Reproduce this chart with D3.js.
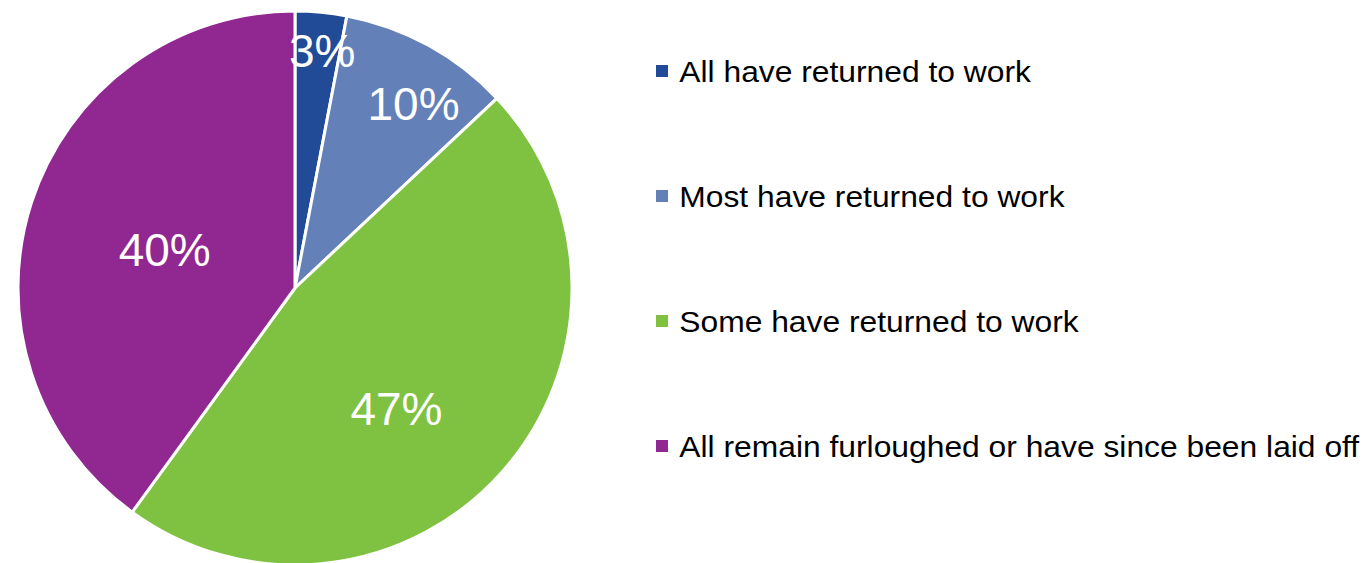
<!DOCTYPE html>
<meta charset="utf-8">
<style>
body { margin: 0; background: #fff; }
.legend text { font: normal 30px "Liberation Sans", Arial, sans-serif; fill: #000; }
.slice-label { font: normal 46px "Liberation Sans", Arial, sans-serif; fill: #fff; }
</style>
<body>
<script src="https://cdn.jsdelivr.net/npm/d3@7"></script>
<script>

// data
var categories = ["All have returned to work", "Most have returned to work",
                  "Some have returned to work", "All remain furloughed or have since been laid off"];
var shares = [3, 10, 47, 40];
var colours = ["#214b97", "#6380b9", "#7fc241", "#912790"];

var width = 1370, height = 563;
var cx = 295, cy = 288, radius = 277;

var svg = d3.select("body").append("svg")
    .attr("width", width)
    .attr("height", height);

var pie = d3.pie().sort(null).value(function(d) { return d; });
var arcs = pie(shares);

var arc = d3.arc().innerRadius(0).outerRadius(radius);

var g = svg.append("g").attr("transform", "translate(" + cx + "," + cy + ")");

g.selectAll("path.slice")
    .data(arcs)
    .enter().append("path")
    .attr("class", "slice")
    .attr("d", arc)
    .style("fill", function(d, i) { return colours[i]; })
    .style("stroke", "#fff")
    .style("stroke-width", 3)
    .style("stroke-linejoin", "round");

// label distance from centre, as a share of the radius (Excel best-fit look)
var labelR = [0.86, 0.79, 0.57, 0.49];
var labelTurn = [0.02, 0.07, 0.15, -0.03]; // small angle nudges in radians

g.selectAll("text.slice-label")
    .data(arcs)
    .enter().append("text")
    .attr("class", "slice-label")
    .attr("text-anchor", "middle")
    .attr("x", function(d, i) {
        var a = (d.startAngle + d.endAngle) / 2 + labelTurn[i];
        return Math.sin(a) * radius * labelR[i];
    })
    .attr("y", function(d, i) {
        var a = (d.startAngle + d.endAngle) / 2 + labelTurn[i];
        return -Math.cos(a) * radius * labelR[i];
    })
    .attr("dy", "0.35em")
    .text(function(d) { return d.data + "%"; });

// legend
var legendY = d3.scalePoint().domain(categories).range([71, 446]);

var legend = svg.append("g").attr("class", "legend")
    .selectAll("g")
    .data(categories)
    .enter().append("g")
    .attr("transform", function(d) { return "translate(656," + legendY(d) + ")"; });

legend.append("rect")
    .attr("x", 0).attr("y", -6)
    .attr("width", 12).attr("height", 12)
    .style("fill", function(d, i) { return colours[i]; });

legend.append("text")
    .attr("x", 22)
    .attr("dy", "0.36em")
    .attr("transform", "scale(1.06,1)")
    .text(function(d) { return d; });

</script>
</body>
